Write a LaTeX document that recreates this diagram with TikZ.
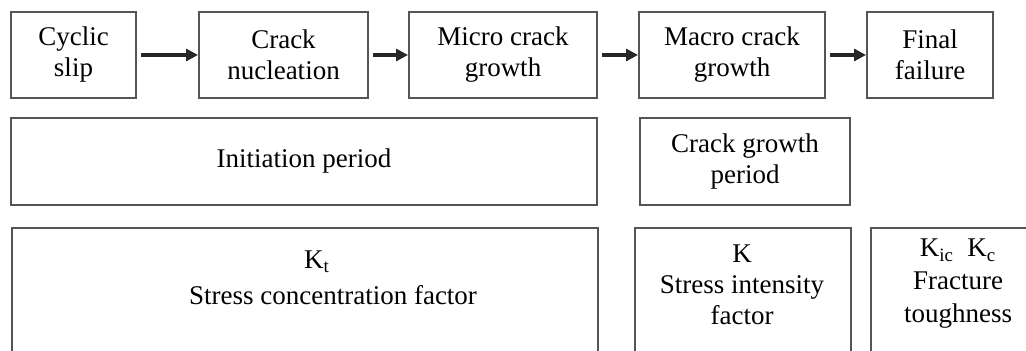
\documentclass[tikz,border=0pt]{standalone}
\usepackage{fontspec}
\setmainfont{Liberation Serif}
\usetikzlibrary{arrows.meta, positioning}
\definecolor{boxgray}{HTML}{555555}

\begin{document}
\begin{tikzpicture}[
    x=0.5pt, y=-0.5pt,
    stage/.style={rectangle, draw=boxgray, line width=1pt, minimum height=43pt, inner sep=0pt, align=center, font=\fontsize{13.5}{15.5}\selectfont},
    period/.style={stage, minimum height=43.5pt},
    param/.style={rectangle, draw=boxgray, line width=1pt, minimum height=80pt, inner sep=0pt, anchor=north west},
    paramtext/.style={inner sep=0pt, align=center, font=\fontsize{13.5}{15.5}\selectfont},
    flow/.style={-{Triangle[length=6pt,width=6pt]}, line width=1.6pt, draw=black!85, shorten <=2pt}
]
\useasboundingbox (0,0) rectangle (1026,351);

% Mechanism stages
\node[stage, minimum width=62.5pt] (slip) at (73.5,55) {Cyclic\\slip};
\node[stage, minimum width=84.5pt] (nucl) at (283.5,55) {Crack\\nucleation};
\node[stage, minimum width=94pt] (micro) at (503,55) {Micro crack\\growth};
\node[stage, minimum width=93pt] (macro) at (732,55) {Macro crack\\growth};
\node[stage, minimum width=63pt] (fail) at (930,55) {Final\\failure};

\draw[flow] (slip) -- (nucl);
\draw[flow] (nucl) -- (micro);
\draw[flow] (micro) -- (macro);
\draw[flow] (macro) -- (fail);

% Periods
\node[period, minimum width=293pt] (init) at (304,161.5) {Initiation period};
\node[period, minimum width=105pt] (cgp) at (745,161.5) {Crack growth\\period};

% Governing parameters
\node[param, minimum width=293pt] (ktbox) at (11,227) {};
\node[param, minimum width=108pt] (kbox) at (634,227) {};
\node[param, minimum width=90pt] (kicbox) at (870,227) {};

\node[paramtext] (ktsym) at (317,262) {K\textsubscript{t}};
\node[paramtext] (ktname) at (333,295) {Stress concentration factor};
\node[paramtext] (k) at (742,285) {K\\Stress intensity\\factor};
\node[paramtext, font=\fontsize{13.5}{16.5}\selectfont] (kic) at (958,284) {K\textsubscript{ic}\enspace K\textsubscript{c}\\Fracture\\toughness};

\end{tikzpicture}
\end{document}
